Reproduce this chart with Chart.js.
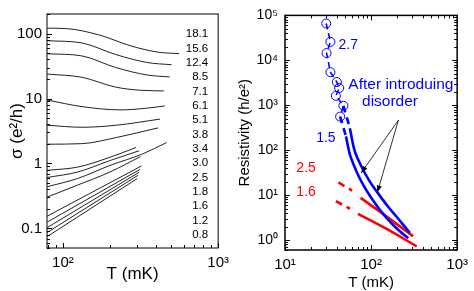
<!DOCTYPE html>
<html>
<head>
<meta charset="utf-8">
<script src="https://cdn.jsdelivr.net/npm/chart.js@4/dist/chart.umd.min.js"></script>
<style>
html,body{margin:0;padding:0;background:#fff;}
#c1{position:absolute;left:0;top:0;}
#c2{position:absolute;left:235px;top:0;}
</style>
</head>
<body>
<canvas id="c1" width="235" height="291"></canvas>
<canvas id="c2" width="239" height="291"></canvas>
<script>
// ---------- tick values ----------
const leftXTicks = [100, 1000];
const leftYTicks = [0.1, 1, 10, 100];
const rightXTicks = [10, 100, 1000];
const rightYTicks = [1, 10, 100, 1000, 10000, 100000];

// ---------- left panel: conductivity curves ----------
const sampleLabels = ['18.1','15.6','12.4','8.5','7.1','6.1','5.1','3.8','3.4','3.0','2.5','1.8','1.6','1.2','0.8'];
const sigmaT = [
  [79.4, 106, 170, 274, 404, 562],
  [79.4, 133, 218, 350, 501],
  [79.4, 133, 218, 350, 487],
  [79.4, 133, 218, 316, 447],
  [79.4, 133, 237, 340, 453],
  [79.4, 133, 218, 422],
  [79.4, 133, 218, 410],
  [79.4, 124.6, 201, 295.5],
  [79.4, 124.6, 201, 310],
  [79.4, 124.6, 201, 325.5, 466],
  [79.4, 124.6, 201, 316],
  [79.4, 320.9],
  [79.4, 314],
  [79.4, 309.5],
  [79.4, 305],
  [79.4, 300.6]
];
const sigmaV = [
  [121, 119, 95.6, 64.6, 52, 49],
  [77.6, 71.6, 47.7, 35.8, 33.1],
  [48.9, 45.2, 30.1, 23, 21.5],
  [23.8, 21.2, 15, 13.4, 13.1],
  [9.46, 7.5, 6.68, 7.07, 7.68],
  [3.87, 3.61, 3.87, 4.82],
  [1.98, 2.02, 2.49, 3.53],
  [0.784, 0.88, 1.245, 1.762],
  [0.609, 0.739, 1.11, 1.57],
  [0.439, 0.588, 0.933, 1.40, 2.10],
  [0.304, 0.466, 0.739, 1.275],
  [0.155, 0.917],
  [0.1257, 0.812],
  [0.1035, 0.732],
  [0.087, 0.659],
  [0.0752, 0.584]
];

// ---------- right panel: resistivity ----------
const circleT = [30.1, 33.7, 30.4, 33.7, 40, 42.6, 39, 47.7, 43.7];
const circleR = [66000, 25800, 14500, 5450, 3290, 2425, 1618, 975, 559];

const blueDashT1 = [43.7, 51.1];
const blueDashR1 = [559, 203];
const blueT1 = [51.1, 56.7, 67.3, 80.1, 99.5, 123.9, 153.6, 199, 270];
const blueR1 = [203, 80.4, 34.5, 17.6, 8.95, 4.97, 3.0, 1.81, 1.09];

const blueDashT2 = [47.7, 56.7];
const blueDashR2 = [975, 309];
const blueT2 = [56.7, 64.6, 76.7, 95.5, 118.3, 153.6, 199, 281.6];
const blueR2 = [309, 95, 44.5, 20.8, 11.5, 5.88, 3.25, 1.45];

const redDashT25 = [41.8, 60.2];
const redDashR25 = [19.1, 12.6];
const redT25 = [75.5, 129, 307.6];
const redR25 = [8.68, 4.19, 1.22];

const redDashT16 = [39, 56.7];
const redDashR16 = [7.31, 4.97];
const redT16 = [70.3, 153.6, 340];
const redR16 = [3.82, 1.74, 0.72];

const arrowT = [76.7, 208, 118.3];
const arrowR = [31.2, 468, 11.5];

// ---------- helpers ----------
const FONT = '"Liberation Sans", Arial, Helvetica, sans-serif';
Chart.defaults.font.family = FONT;
Chart.defaults.color = '#000';
const BLUE = '#0000ff', RED = '#ff0000';
const SUP = ['\u2070','\u00b9','\u00b2','\u00b3','\u2074','\u2075'];
const pts = (xs, ys) => xs.map((x, i) => ({x: x, y: ys[i]}));
const pow10 = v => '10' + SUP[Math.round(Math.log10(v))];

function minorVals(min, max) {
  const out = [];
  for (let e = Math.floor(Math.log10(min)) - 1; e <= Math.ceil(Math.log10(max)); e++) {
    for (let k = 1; k <= 9; k++) {
      const v = k * Math.pow(10, e);
      if (v >= min * 0.999 && v <= max * 1.001) out.push({v: v, major: k === 1});
    }
  }
  return out;
}

function frameTicks(allSides, lw) {
  return {
    id: 'frameTicks',
    afterDatasetsDraw(chart) {
      const {ctx, chartArea: a, scales: {x, y}} = chart;
      ctx.save();
      ctx.strokeStyle = '#000';
      ctx.lineWidth = lw;
      ctx.strokeRect(a.left, a.top, a.right - a.left, a.bottom - a.top);
      ctx.lineWidth = 1;
      ctx.beginPath();
      minorVals(x.min, x.max).forEach(t => {
        const p = Math.round(x.getPixelForValue(t.v)) + 0.5;
        const len = t.major ? 5 : 3;
        ctx.moveTo(p, a.bottom); ctx.lineTo(p, a.bottom - len);
        if (allSides) { ctx.moveTo(p, a.top); ctx.lineTo(p, a.top + len); }
      });
      minorVals(y.min, y.max).forEach(t => {
        const p = Math.round(y.getPixelForValue(t.v)) + 0.5;
        const len = t.major ? 5 : 3;
        ctx.moveTo(a.left, p); ctx.lineTo(a.left + len, p);
        if (allSides) { ctx.moveTo(a.right, p); ctx.lineTo(a.right - len, p); }
      });
      ctx.stroke();
      ctx.restore();
    }
  };
}

const labelColumn = {
  id: 'labelColumn',
  afterDraw(chart) {
    const {ctx, chartArea: a} = chart;
    ctx.save();
    ctx.font = '11.5px ' + FONT;
    ctx.fillStyle = '#000';
    ctx.textAlign = 'right';
    ctx.textBaseline = 'middle';
    sampleLabels.forEach((t, i) => ctx.fillText(t, a.right - 10, a.top + 20 + i * 14.36));
    ctx.restore();
  }
};

const rightNotes = [
  {text: '2.7', t: 41.8, r: 21700, color: BLUE, align: 'left', size: 14},
  {text: 'After introduing', t: 222, r: 2924, color: BLUE, align: 'center', size: 15.5},
  {text: 'disorder', t: 166, r: 1194, color: BLUE, align: 'center', size: 15.5},
  {text: '1.5', t: 23, r: 186, color: BLUE, align: 'left', size: 14},
  {text: '2.5', t: 13.55, r: 40.8, color: RED, align: 'left', size: 14},
  {text: '1.6', t: 13.55, r: 11.5, color: RED, align: 'left', size: 14}
];

const notesPlugin = {
  id: 'notes',
  afterDraw(chart) {
    const {ctx, scales: {x, y}} = chart;
    ctx.save();
    ctx.textBaseline = 'middle';
    rightNotes.forEach(n => {
      ctx.font = n.size + 'px ' + FONT;
      ctx.fillStyle = n.color;
      ctx.textAlign = n.align;
      ctx.fillText(n.text, x.getPixelForValue(n.t), y.getPixelForValue(n.r));
    });
    // arrow heads
    const meta = chart.getDatasetMeta(chart.data.datasets.findIndex(d => d.label === 'arrows'));
    const P = meta.data;
    ctx.fillStyle = '#000';
    [[P[1], P[0]], [P[1], P[2]]].forEach(([s, e]) => {
      const ang = Math.atan2(e.y - s.y, e.x - s.x);
      const L = 7, W = 2.6;
      ctx.beginPath();
      ctx.moveTo(e.x, e.y);
      ctx.lineTo(e.x - L * Math.cos(ang) + W * Math.sin(ang), e.y - L * Math.sin(ang) - W * Math.cos(ang));
      ctx.lineTo(e.x - L * Math.cos(ang) - W * Math.sin(ang), e.y - L * Math.sin(ang) + W * Math.cos(ang));
      ctx.closePath();
      ctx.fill();
    });
    ctx.restore();
  }
};

const setTicks = list => (s => { s.ticks = list.map(v => ({value: v})); });
const noGrid = {display: false, drawTicks: false, tickLength: 0};

// ---------- left chart ----------
new Chart(document.getElementById('c1'), {
  type: 'line',
  data: {
    datasets: sigmaT.map((ts, i) => ({
      label: 'c' + i,
      data: pts(ts, sigmaV[i]),
      borderColor: '#222',
      borderWidth: 1,
      pointRadius: 0,
      cubicInterpolationMode: 'monotone',
      fill: false
    }))
  },
  options: {
    responsive: false,
    animation: false,
    events: [],
    layout: {padding: {left: 0, right: 12, top: 9, bottom: 0}},
    plugins: {legend: {display: false}, tooltip: {enabled: false}},
    scales: {
      x: {
        type: 'logarithmic', min: 79, max: 1000,
        afterBuildTicks: setTicks(leftXTicks),
        afterFit: s => { s.height = 43; },
        grid: noGrid,
        border: {display: false},
        ticks: {callback: v => pow10(v), font: {size: 15}, color: '#000', padding: 6, maxRotation: 0, autoSkip: false},
        title: {display: true, text: 'T (mK)', font: {size: 17}, color: '#000', padding: {top: 0, bottom: 6}}
      },
      y: {
        type: 'logarithmic', min: 0.05, max: 200,
        afterBuildTicks: setTicks(leftYTicks),
        afterFit: s => { s.width = 47; },
        grid: noGrid,
        border: {display: false},
        ticks: {callback: v => String(v), font: {size: 15}, color: '#000', padding: 5, autoSkip: false},
        title: {display: true, text: 'σ (e²/h)', font: {size: 17}, color: '#000', padding: {top: 7, bottom: 0}}
      }
    }
  },
  plugins: [frameTicks(false, 1), labelColumn]
});

// ---------- right chart ----------
const lineDs = (label, xs, ys, color, dashed) => ({
  label: label,
  data: pts(xs, ys),
  borderColor: color,
  borderWidth: 2.6,
  borderDash: dashed ? [7, 5] : [],
  pointRadius: 0,
  tension: 0.3,
  fill: false
});

new Chart(document.getElementById('c2'), {
  type: 'line',
  data: {
    datasets: [
      {
        label: 'circles 2.7',
        data: pts(circleT, circleR),
        borderColor: BLUE,
        borderWidth: 1.6,
        borderDash: [6, 4],
        pointStyle: 'circle',
        pointRadius: 4.5,
        pointBorderWidth: 1,
        pointBorderColor: BLUE,
        pointBackgroundColor: 'rgba(0,0,0,0)',
        tension: 0,
        fill: false
      },
      lineDs('blue dash 1', blueDashT1, blueDashR1, BLUE, true),
      lineDs('blue 1', blueT1, blueR1, BLUE, false),
      lineDs('blue dash 2', blueDashT2, blueDashR2, BLUE, true),
      lineDs('blue 2', blueT2, blueR2, BLUE, false),
      lineDs('red dash 2.5', redDashT25, redDashR25, RED, true),
      lineDs('red 2.5', redT25, redR25, RED, false),
      lineDs('red dash 1.6', redDashT16, redDashR16, RED, true),
      lineDs('red 1.6', redT16, redR16, RED, false),
      {
        label: 'arrows',
        data: pts(arrowT, arrowR),
        borderColor: '#000',
        borderWidth: 0.8,
        pointRadius: 0,
        tension: 0,
        fill: false
      }
    ]
  },
  options: {
    responsive: false,
    animation: false,
    events: [],
    layout: {padding: {left: 0, right: 12, top: 12, bottom: 0}},
    plugins: {legend: {display: false}, tooltip: {enabled: false}},
    scales: {
      x: {
        type: 'logarithmic', min: 10, max: 1000,
        afterBuildTicks: setTicks(rightXTicks),
        afterFit: s => { s.height = 41; },
        grid: noGrid,
        border: {display: false},
        ticks: {callback: v => pow10(v), font: {size: 15}, color: '#000', padding: 6, maxRotation: 0, autoSkip: false},
        title: {display: true, text: 'T (mK)', font: {size: 15, lineHeight: 1.1}, color: '#000', padding: {top: 0, bottom: 0}}
      },
      y: {
        type: 'logarithmic', min: 0.6, max: 100000,
        afterBuildTicks: setTicks(rightYTicks),
        afterFit: s => { s.width = 50; },
        grid: noGrid,
        border: {display: false},
        ticks: {callback: v => pow10(v), font: {size: 14}, color: '#000', padding: 7, autoSkip: false},
        title: {display: true, text: 'Resistivity (h/e²)', font: {size: 15}, color: '#000', padding: {top: 1, bottom: 0}}
      }
    }
  },
  plugins: [frameTicks(true, 1.5), notesPlugin]
});
</script>
</body>
</html>
